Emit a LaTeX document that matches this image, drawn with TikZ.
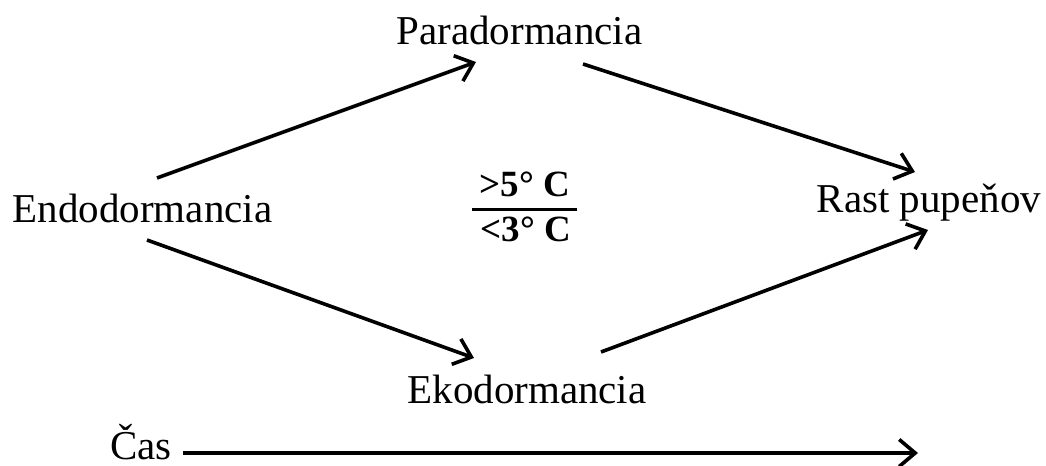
\documentclass[tikz,border=0pt]{standalone}
\usepackage{fontspec}
\setmainfont{Liberation Serif}
\usetikzlibrary{arrows.meta,calc}
\begin{document}
\begin{tikzpicture}[x=0.5pt,y=-0.5pt,
  state/.style={inner sep=0pt,anchor=base,font=\fontsize{20.5}{24}\selectfont},
  temp/.style={inner sep=0pt,anchor=base,font=\fontsize{18.5}{22}\selectfont\bfseries},
  flow/.style={line width=1.8pt,-{Straight Barb[length=8pt,width=13.5pt,line width=1.8pt]}}]
  \useasboundingbox (0,0) rectangle (1046,466);
  \node[state] (endo) at (142.5,222) {Endodormancia};
  \node[state] (para) at (519.5,44) {Paradormancia};
  \node[state] (eko) at (527,403) {Ekodormancia};
  \node[state] (rast) at (929,212) {Rast pupeňov};
  \node[state] (cas) at (141,459) {Čas};
  \node[temp] (warm) at (525,196) {>5° C};
  \node[temp] (cold) at (526,241) {<3° C};
  \draw[line width=1.5pt] (472,209) -- (577,209);
  \coordinate (tend) at (918,453);
  \draw[flow] ($(endo.base)+(14.5,-44)$) -- ($(para.base)+(-43.5,18)$);
  \draw[flow] ($(para.base)+(63.5,20)$) -- ($(rast.base)+(-14,-40)$);
  \draw[flow] ($(endo.base)+(4.5,18)$) -- ($(eko.base)+(-53,-45)$);
  \draw[flow] ($(eko.base)+(74,-51)$) -- ($(rast.base)+(-1,18)$);
  \draw[flow] ($(cas.base)+(42,-6)$) -- (tend);
\end{tikzpicture}
\end{document}
